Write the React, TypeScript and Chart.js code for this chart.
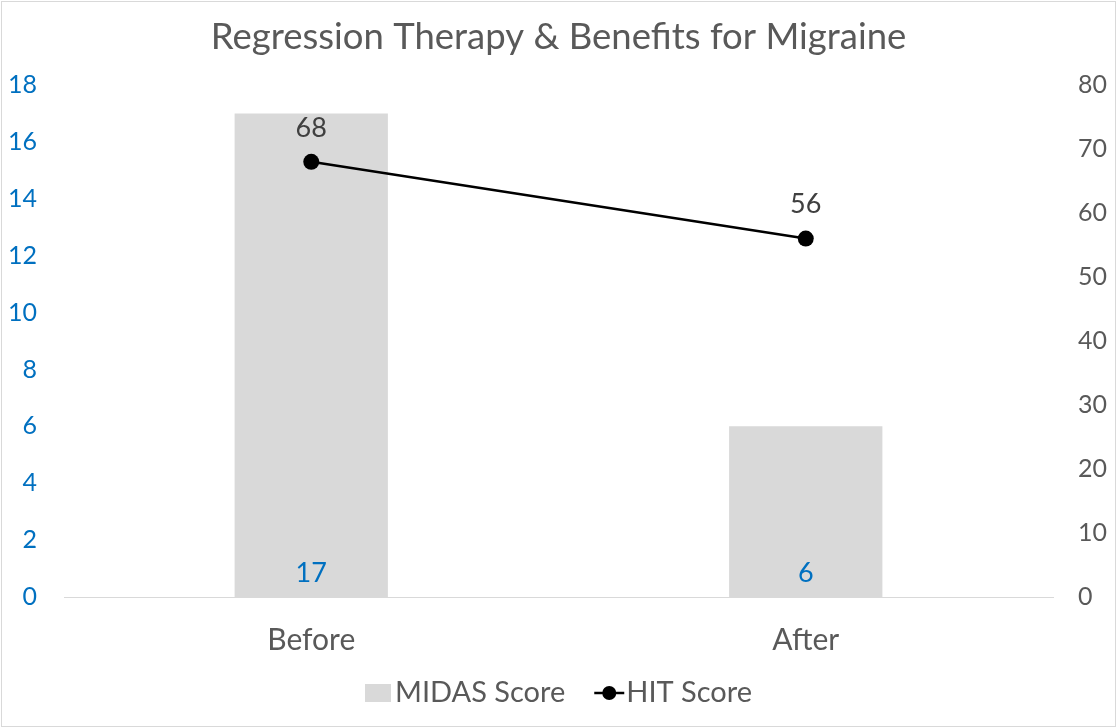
import React, { useEffect, useRef } from "react";
import { Chart, registerables } from "chart.js";

Chart.register(...registerables);

const chartTitle = "Regression Therapy & Benefits for Migraine";
const categories = ["Before", "After"];
const midasLabel = "MIDAS Score";
const hitLabel = "HIT Score";
const midasScores = [17, 6];
const hitScores = [68, 56];
const leftAxisRange = [0, 18];
const leftAxisStep = 2;
const rightAxisRange = [0, 80];
const rightAxisStep = 10;

const FONT = "Lato, 'Open Sans', sans-serif";
const GREY_TEXT = "#595959";
const BLUE = "#0070C0";
const BAR_GREY = "#D9D9D9";

const decorPlugin = {
  id: "decor",
  beforeDraw(chart: any) {
    const ctx = chart.ctx;
    ctx.save();
    ctx.fillStyle = "#ffffff";
    ctx.fillRect(0, 0, chart.width, chart.height);
    ctx.strokeStyle = "#D9D9D9";
    ctx.lineWidth = 1;
    ctx.strokeRect(1.5, 1.5, chart.width - 3, chart.height - 3);
    ctx.restore();
  },
  afterDatasetsDraw(chart: any) {
    const ctx = chart.ctx;
    ctx.save();
    ctx.textAlign = "center";
    ctx.textBaseline = "middle";
    const y0 = chart.scales.y.getPixelForValue(0);
    const barMeta = chart.getDatasetMeta(0);
    ctx.font = `27px ${FONT}`;
    ctx.fillStyle = BLUE;
    barMeta.data.forEach((el: any, i: number) => {
      ctx.fillText(String(midasScores[i]), el.x, y0 - 24);
    });
    const lineMeta = chart.getDatasetMeta(1);
    ctx.fillStyle = "#404040";
    lineMeta.data.forEach((el: any, i: number) => {
      ctx.fillText(String(hitScores[i]), el.x, el.y - 34);
    });
    ctx.restore();
  },
  afterDraw(chart: any) {
    const ctx = chart.ctx;
    ctx.save();
    // title
    ctx.font = `36.5px ${FONT}`;
    ctx.fillStyle = GREY_TEXT;
    ctx.textAlign = "center";
    ctx.textBaseline = "middle";
    ctx.fillText(chartTitle, chart.width / 2, 37);
    // legend
    ctx.font = `29px ${FONT}`;
    const w1 = ctx.measureText(midasLabel).width;
    const w2 = ctx.measureText(hitLabel).width;
    const boxW = 26, gap1 = 4, between = 29, markW = 30, gap2 = 2;
    const total = boxW + gap1 + w1 + between + markW + gap2 + w2;
    let x = chart.width / 2 - total / 2;
    const ly = 693;
    ctx.fillStyle = BAR_GREY;
    ctx.fillRect(x, ly - 9, boxW, 18);
    x += boxW + gap1;
    ctx.fillStyle = GREY_TEXT;
    ctx.textAlign = "left";
    ctx.fillText(midasLabel, x, ly);
    x += w1 + between;
    ctx.strokeStyle = "#000";
    ctx.lineWidth = 2.5;
    ctx.beginPath();
    ctx.moveTo(x, ly);
    ctx.lineTo(x + markW, ly);
    ctx.stroke();
    ctx.fillStyle = "#000";
    ctx.beginPath();
    ctx.arc(x + markW / 2, ly, 7, 0, Math.PI * 2);
    ctx.fill();
    x += markW + gap2;
    ctx.fillStyle = GREY_TEXT;
    ctx.fillText(hitLabel, x, ly);
    ctx.restore();
  },
};

export default function App() {
  const canvasRef = useRef<HTMLCanvasElement | null>(null);

  useEffect(() => {
    document.body.style.margin = "0";
    const canvas = canvasRef.current;
    if (!canvas) return;
    const chart = new Chart(canvas, {
      type: "bar",
      data: {
        labels: categories,
        datasets: [
          {
            type: "bar",
            label: midasLabel,
            data: midasScores,
            backgroundColor: BAR_GREY,
            borderWidth: 0,
            yAxisID: "y",
            barPercentage: 0.31,
            categoryPercentage: 1,
            order: 1,
          },
          {
            type: "line",
            label: hitLabel,
            data: hitScores,
            borderColor: "#000",
            backgroundColor: "#000",
            borderWidth: 2.5,
            pointRadius: 8,
            pointBorderWidth: 0,
            pointBackgroundColor: "#000",
            yAxisID: "y1",
            order: 0,
          },
        ],
      } as any,
      options: {
        responsive: false,
        animation: false,
        layout: { padding: { top: 85, bottom: 61, left: 0, right: 0 } },
        plugins: {
          legend: { display: false },
          title: { display: false },
          tooltip: { enabled: false },
        },
        scales: {
          x: {
            grid: { display: false, drawTicks: false },
            border: { display: true, color: "#D9D9D9", width: 1 },
            ticks: {
              color: GREY_TEXT,
              font: { family: FONT, size: 30 },
              padding: 25,
            },
            afterFit(scale: any) {
              scale.height = 70;
            },
          },
          y: {
            position: "left",
            min: leftAxisRange[0],
            max: leftAxisRange[1],
            grid: { display: false, drawTicks: false },
            border: { display: false },
            ticks: {
              stepSize: leftAxisStep,
              color: BLUE,
              font: { family: FONT, size: 25 },
              padding: 27,
            },
            afterFit(scale: any) {
              scale.width = 64;
            },
          },
          y1: {
            position: "right",
            min: rightAxisRange[0],
            max: rightAxisRange[1],
            grid: { display: false, drawTicks: false },
            border: { display: false },
            ticks: {
              stepSize: rightAxisStep,
              color: GREY_TEXT,
              font: { family: FONT, size: 25 },
              padding: 25,
            },
            afterFit(scale: any) {
              scale.width = 64;
            },
          },
        },
      } as any,
      plugins: [decorPlugin],
    });
    return () => chart.destroy();
  }, []);

  return (
    <div style={{ position: "fixed", left: 0, top: 0, width: 1117, height: 728 }}>
      <canvas ref={canvasRef} width={1117} height={728} style={{ display: "block" }} />
    </div>
  );
}
